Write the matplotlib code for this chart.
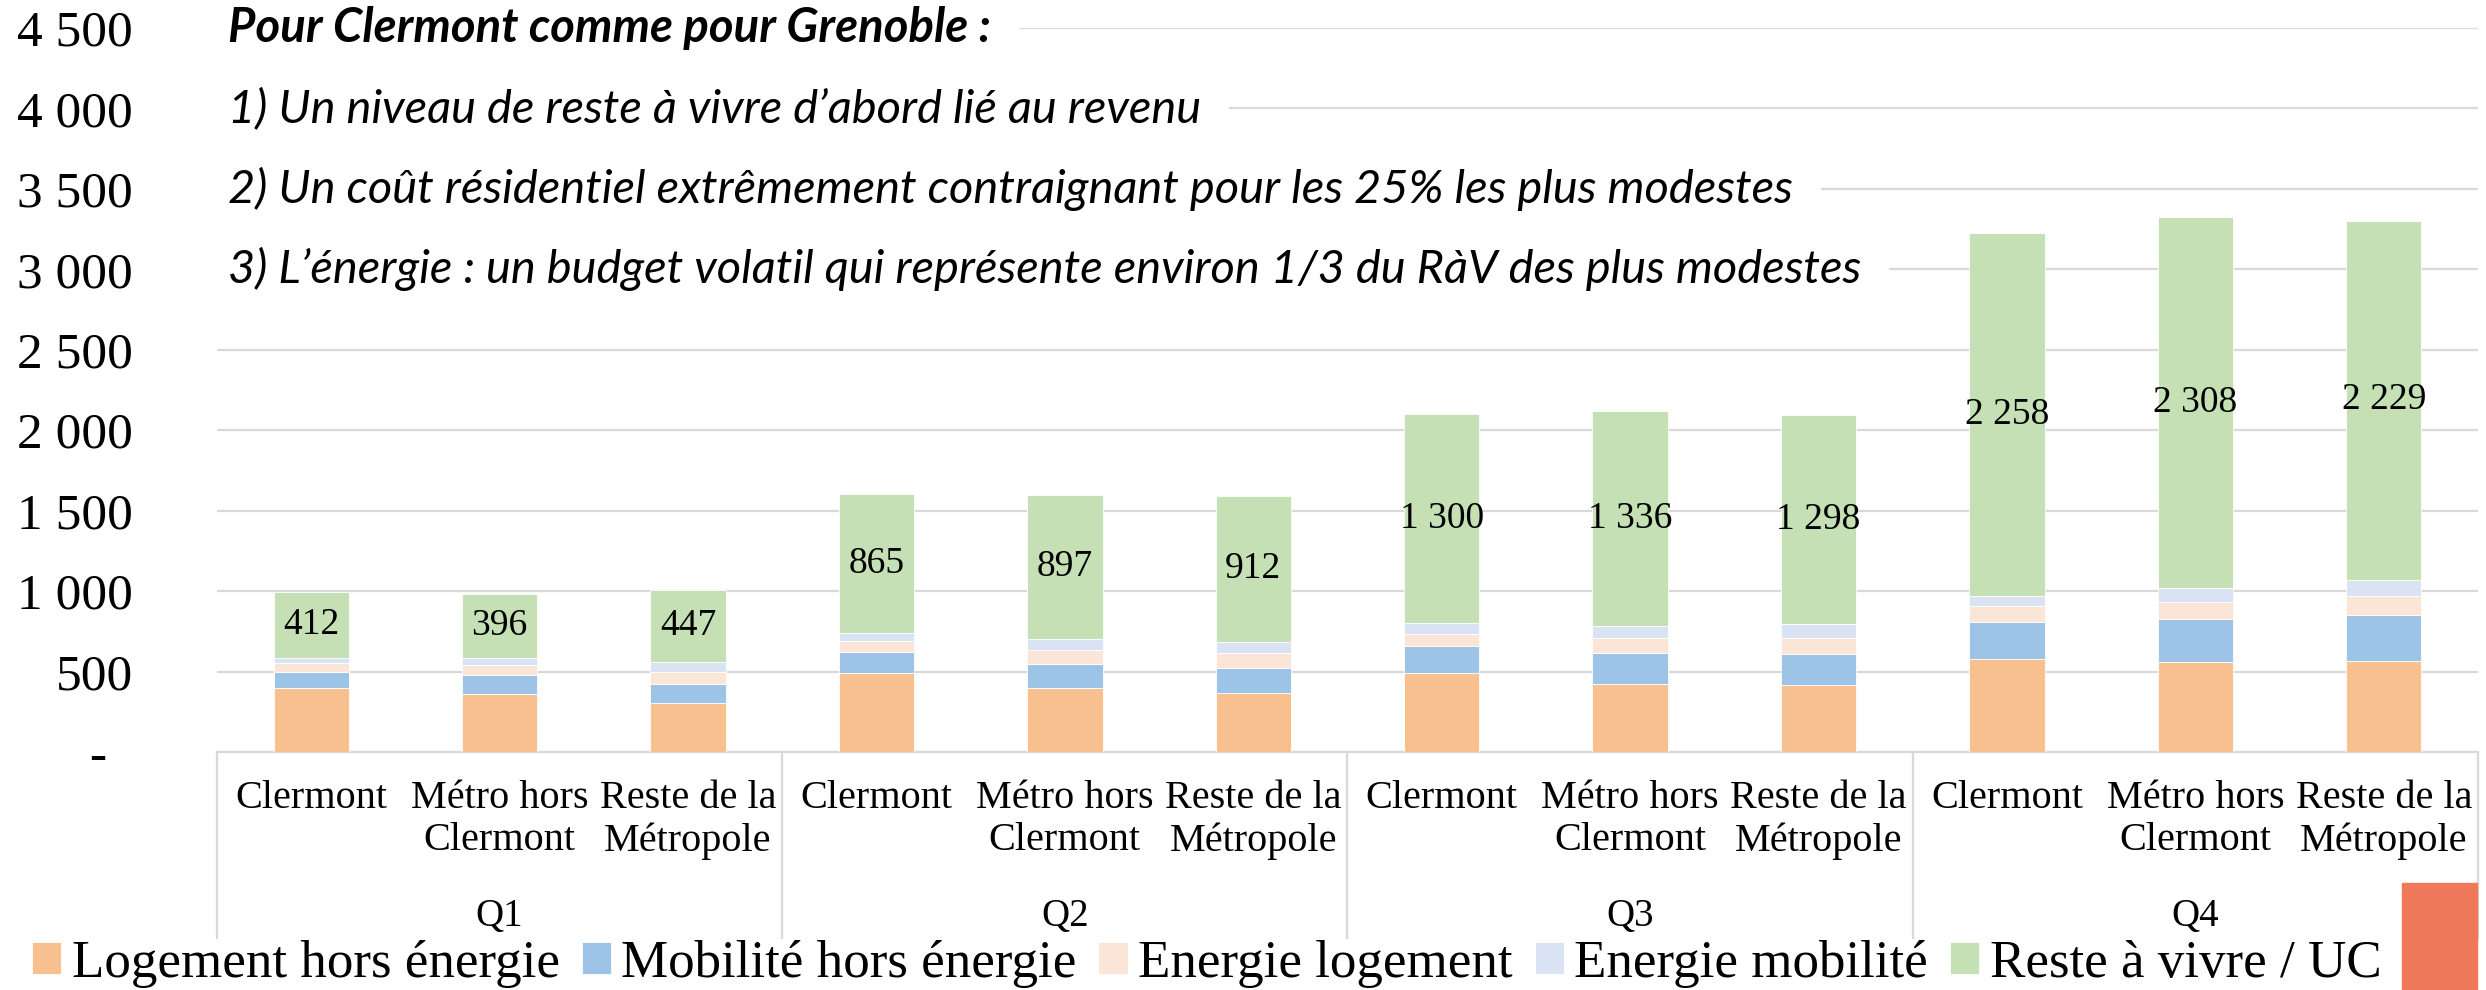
import matplotlib.pyplot as plt
from matplotlib.patches import Rectangle
import numpy as np

# values (euros / UC)
quartiles = ["Q1", "Q2", "Q3", "Q4"]
zones = ["Clermont", "Métro hors\nClermont", "Reste de la\nMétropole"]
logement = [398, 360, 302, 488, 399, 366, 493, 424, 416, 578, 560, 566]
mobilite = [97, 116, 118, 131, 151, 157, 165, 191, 193, 233, 268, 285]
energie_log = [58, 62, 79, 73, 86, 92, 73, 91, 101, 94, 106, 117]
energie_mob = [31, 48, 60, 45, 64, 66, 70, 75, 85, 65, 83, 104]
reste = [412, 396, 447, 865, 897, 912, 1300, 1336, 1298, 2258, 2308, 2229]

series_names = ["Logement hors énergie", "Mobilité hors énergie", "Energie logement",
                "Energie mobilité", "Reste à vivre / UC"]
colors = ["#F8BF8F", "#9DC3E6", "#FBE5D6", "#DAE3F3", "#C5E0B4"]

notes = ["1) Un niveau de reste à vivre d’abord lié au revenu",
         "2) Un coût résidentiel extrêmement contraignant pour les 25% les plus modestes",
         "3) L’énergie : un budget volatil qui représente environ 1/3 du RàV des plus modestes"]
title_note = "Pour Clermont comme pour Grenoble :"

W, H = 2486, 990
fig = plt.figure(figsize=(W / 100, H / 100), dpi=100)
ax = fig.add_axes([217 / W, 1 - 752 / H, (2478 - 217) / W, (752 - 28) / H])

serif = "Liberation Serif"
grid_c = "#D9D9D9"

x = np.arange(len(logement))
series = [logement, mobilite, energie_log, energie_mob, reste]
bottom = np.zeros(len(x))
handles = []
for vals, col, name in zip(series, colors, series_names):
    b = ax.bar(x, vals, 0.4, bottom=bottom, color=col, edgecolor="white",
               linewidth=0.6, label=name, zorder=3)
    handles.append(b)
    bottom = bottom + np.array(vals)

# labels on the "reste a vivre" segment
base = bottom - np.array(reste)
for xi, b0, v in zip(x, base, reste):
    ax.text(xi, b0 + v / 2, f"{v:,}".replace(",", " "), ha="center", va="center",
            fontsize=27, family=serif, zorder=5)

ax.set_xlim(-0.5, len(x) - 0.5)
ax.set_ylim(0, 4500)
ax.set_yticks(np.arange(0, 4501, 500))
ax.set_yticklabels(["-  " if v == 0 else f"{v:,}".replace(",", " ")
                    for v in np.arange(0, 4501, 500)], family=serif, fontsize=37)
ax.tick_params(axis="y", length=0, pad=84 * 0.72)
ax.set_xticks([])
ax.yaxis.grid(True, color=grid_c, linewidth=1.6, zorder=0)
ax.set_axisbelow(True)
for s in ["top", "right", "left"]:
    ax.spines[s].set_visible(False)
ax.spines["bottom"].set_color(grid_c)
ax.spines["bottom"].set_linewidth(1.6)

# two-level category axis
tr = ax.get_xaxis_transform()
for i, xi in enumerate(x):
    ax.text(xi, -0.038, zones[i % 3], transform=tr, ha="center", va="top",
            fontsize=29, family=serif, linespacing=1.2)
for g, q in enumerate(quartiles):
    ax.text(3 * g + 1, -0.227, q, transform=tr, ha="center", va="center",
            fontsize=28, family=serif)
for sep in np.arange(-0.5, len(x), 3):
    ax.plot([sep, sep], [0, -0.257], transform=tr, color=grid_c, lw=1.6, clip_on=False)

# notes written over the gridlines
ytr = ax.get_yaxis_transform()
ax.text(0.0049, 4500, title_note, ha="left", va="center", fontsize=34, family="Lato",
        style="italic", weight="bold", zorder=6, transform=ytr,
        bbox=dict(boxstyle="square,pad=0.6", fc="white", ec="none"))
for note, yv in zip(notes, [4000, 3500, 3000]):
    ax.text(0.0049, yv, note, ha="left", va="center", fontsize=33.8, family="Lato",
            style="italic", zorder=6, transform=ytr,
            bbox=dict(boxstyle="square,pad=0.6", fc="white", ec="none"))

fig.legend(handles=handles, loc="center left", bbox_to_anchor=(32 / W, 1 - 964 / H),
           ncol=5, frameon=False, prop=dict(family=serif, size=38.2),
           handlelength=0.55, handleheight=0.55, handletextpad=0.2,
           columnspacing=0.41, borderpad=0, borderaxespad=0)

fig.patches.append(Rectangle((2402 / W, 0), 75 / W, (990 - 883) / H,
                             transform=fig.transFigure, color="#F0785A", zorder=10))

fig.savefig("out.png", dpi=100)
